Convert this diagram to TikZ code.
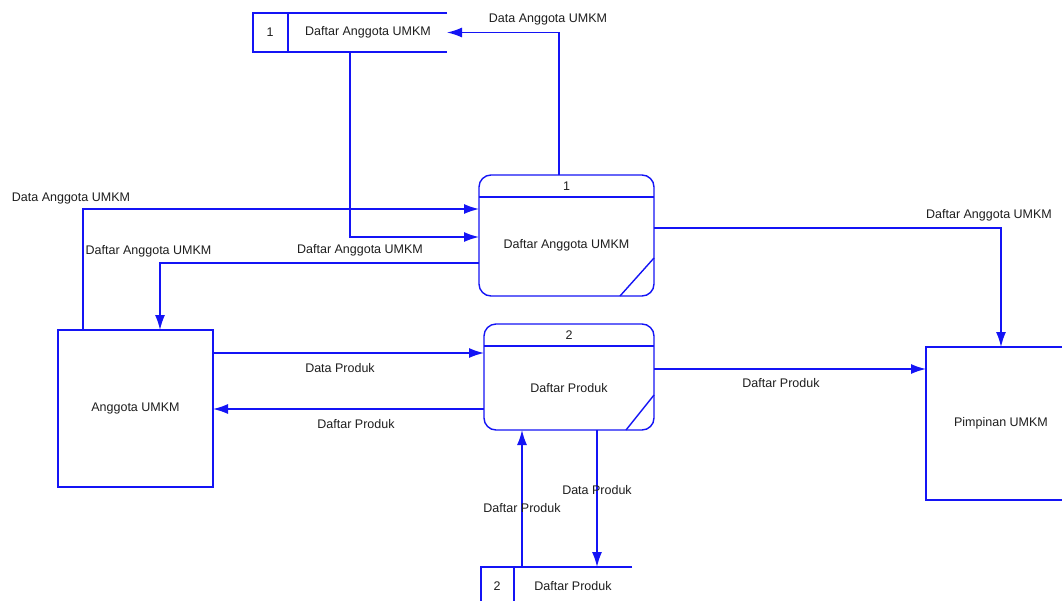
\documentclass[tikz,border=0pt]{standalone}
\usepackage{fontspec}
\setmainfont{Liberation Sans}
\usepackage{xcolor}
\usepackage{tikz}
\usetikzlibrary{arrows.meta,positioning,calc}

\definecolor{dfdline}{RGB}{20,20,245}
\definecolor{dfdtext}{RGB}{30,30,30}

\begin{document}
\begin{tikzpicture}[
    x=1pt, y=-1pt,
    font=\fontsize{12.5}{14}\selectfont, text=dfdtext,
    process/.style={rectangle, draw=dfdline, line width=1.4pt, rounded corners=12pt, inner sep=0pt, outer sep=0pt},
    entity/.style={rectangle, draw=dfdline, line width=1.4pt, inner sep=0pt, outer sep=0pt},
    store/.style={rectangle, inner sep=0pt, outer sep=0pt, minimum height=39pt},
    flow/.style={-{Latex[length=15pt,width=10pt]}, draw=dfdline, line width=1.4pt},
    lbl/.style={inner sep=1pt}
]
\useasboundingbox (0,0) rectangle (1062,600);
\clip (0,0) rectangle (1062,600);

% proses
\node[process, minimum width=175pt, minimum height=121pt] (p1) at (566.5,235.5) {};
\node[process, minimum width=170pt, minimum height=106pt] (p2) at (569,377) {};
\draw[dfdline, line width=1.4pt] ($(p1.north west)+(0,-22pt)$) -- ($(p1.north east)+(0,-22pt)$);
\draw[dfdline, line width=1.4pt] ($(p1.south east)+(-34pt,0)$) -- ($(p1.south east)+(0,38pt)$);
\draw[dfdline, line width=1.4pt] ($(p2.north west)+(0,-22pt)$) -- ($(p2.north east)+(0,-22pt)$);
\draw[dfdline, line width=1.4pt] ($(p2.south east)+(-28pt,0)$) -- ($(p2.south east)+(0,35pt)$);
\node (p1num) at ($(p1.north)+(0,-11pt)$) {1};
\node (p1txt) at ($(p1.center)+(0,-9.5pt)$) {Daftar Anggota UMKM};
\node (p2num) at ($(p2.north)+(0,-11pt)$) {2};
\node (p2txt) at ($(p2.center)+(0,-11pt)$) {Daftar Produk};

% entitas
\node[entity, minimum width=155pt, minimum height=157pt] (anggota) at (135.5,408.5) {Anggota UMKM};
\node[entity, minimum width=150pt, minimum height=153pt] (pimpinan) at (1001,423.5) {Pimpinan UMKM};

% data store
\node[store, minimum width=194pt] (d1) at (350,32.5) {};
\node[store, minimum width=151pt] (d2) at (556.5,586.5) {};
\draw[dfdline, line width=1.4pt] (d1.north east) -- (d1.north west) -- (d1.south west) -- (d1.south east);
\draw[dfdline, line width=1.4pt] ($(d1.north west)+(35pt,0)$) -- ($(d1.south west)+(35pt,0)$);
\draw[dfdline, line width=1.4pt] (d2.north east) -- (d2.north west) -- (d2.south west) -- (d2.south east);
\draw[dfdline, line width=1.4pt] ($(d2.north west)+(33pt,0)$) -- ($(d2.south west)+(33pt,0)$);
\node (d1num) at ($(d1.west)+(17pt,0)$) {1};
\node (d1txt) at ($(d1.center)+(18pt,0)$) {Daftar Anggota UMKM};
\node (d2num) at ($(d2.west)+(16pt,0)$) {2};
\node (d2txt) at ($(d2.center)+(16.5pt,0)$) {Daftar Produk};

% aliran data
\draw[flow] ($(p1.north)+(-7.5pt,0)$) |- (d1.east);
\draw[flow] (d1.south) |- ($(p1.north west)+(0,-62pt)$);
\draw[flow] ($(anggota.north)+(-52.5pt,0)$) |- ($(p1.north west)+(0,-34pt)$);
\draw[flow] ($(p1.north west)+(0,-88pt)$) -| ($(anggota.north)+(24.5pt,0)$);
\draw[flow] ($(p1.north east)+(0,-53pt)$) -| (pimpinan.north);
\draw[flow] ($(anggota.north east)+(0,-23pt)$) -- ($(p2.north west)+(0,-29pt)$);
\draw[flow] ($(p2.north west)+(0,-85pt)$) -- ($(anggota.north east)+(0,-79pt)$);
\draw[flow] ($(p2.north east)+(0,-45pt)$) -- ($(pimpinan.north west)+(0,-22pt)$);
\draw[flow] ($(d2.north west)+(41pt,0)$) -- ($(p2.south west)+(38pt,0)$);
\draw[flow] ($(p2.south west)+(113pt,0)$) -- ($(d2.north west)+(116pt,0)$);

% label aliran
\node[lbl] (l1) at (548,19) {Data Anggota UMKM};
\node[lbl] (l2) at (71,198) {Data Anggota UMKM};
\node[lbl] (l3) at (148.5,251) {Daftar Anggota UMKM};
\node[lbl] (l4) at (360,250) {Daftar Anggota UMKM};
\node[lbl] (l5) at (989,215) {Daftar Anggota UMKM};
\node[lbl] (l6) at (340,368) {Data Produk};
\node[lbl] (l7) at (356,424) {Daftar Produk};
\node[lbl] (l8) at (781,383) {Daftar Produk};
\node[lbl] (l9) at (522,508) {Daftar Produk};
\node[lbl] (l10) at (597,490) {Data Produk};
\end{tikzpicture}
\end{document}
